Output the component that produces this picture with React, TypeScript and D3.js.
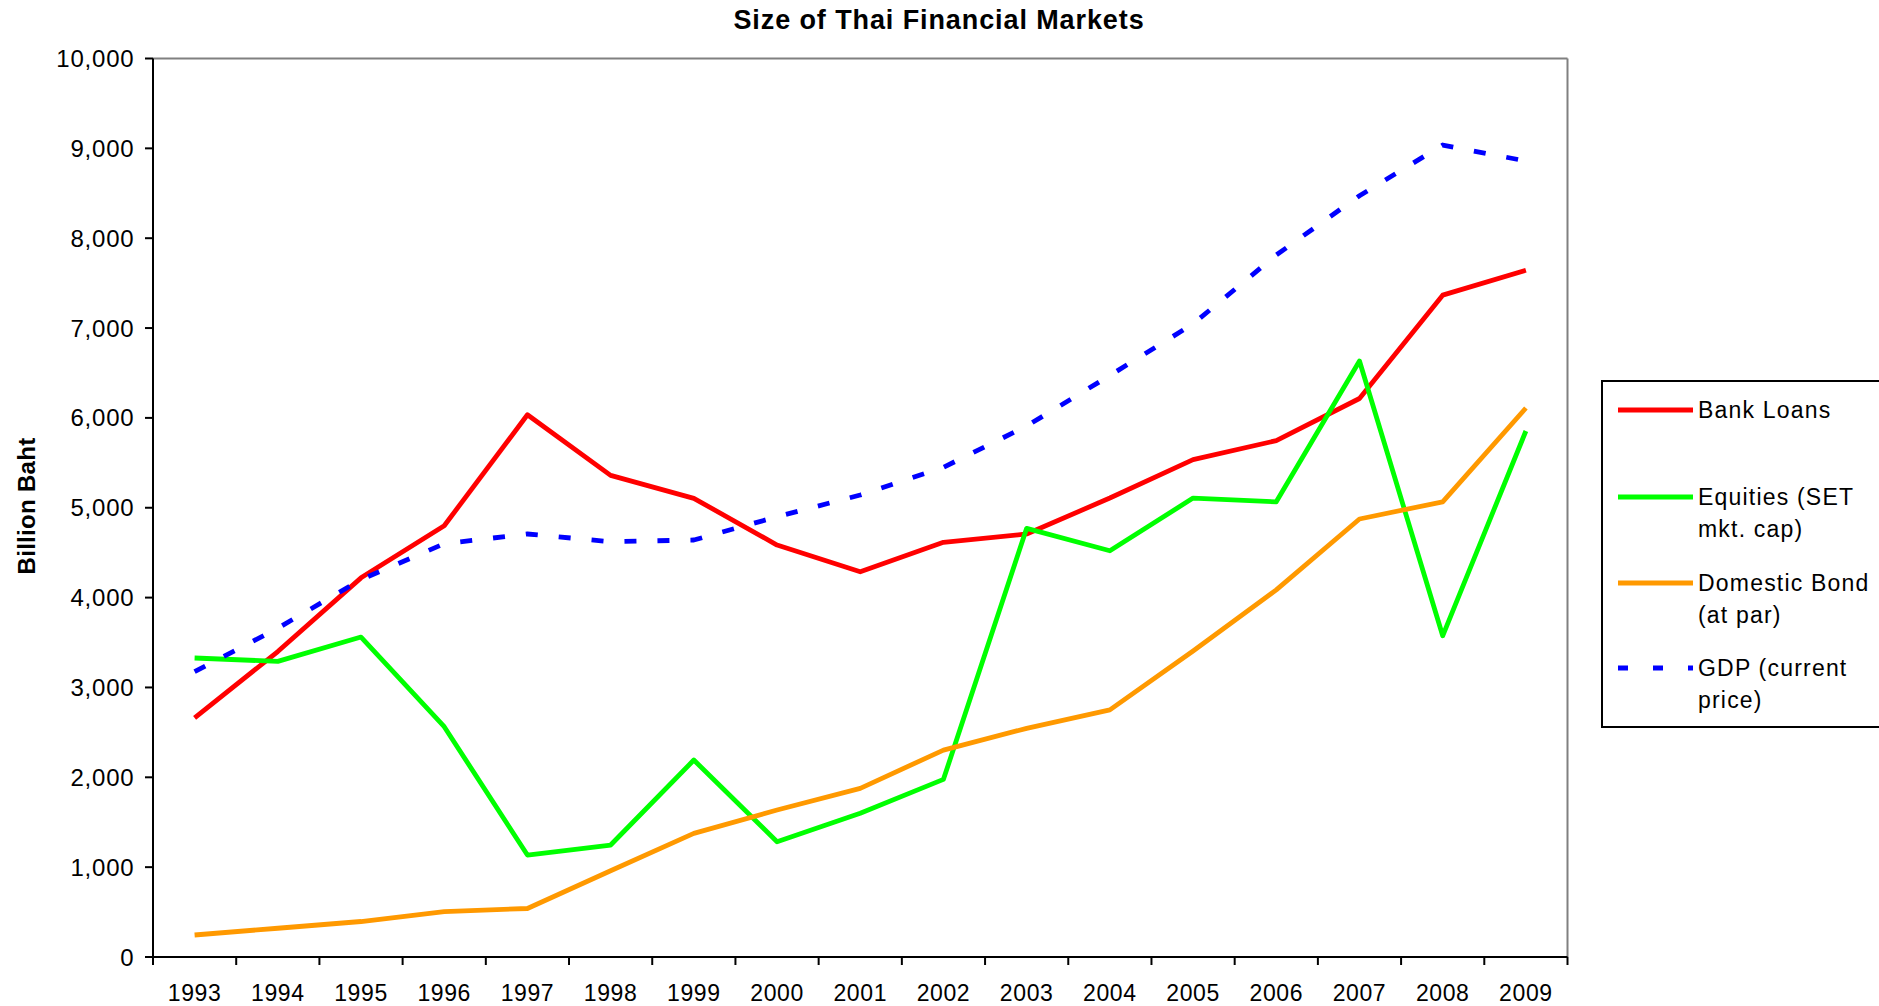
import React from "react";
import * as d3 from "d3";

const years = ["1993","1994","1995","1996","1997","1998","1999","2000","2001","2002","2003","2004","2005","2006","2007","2008","2009"];
const bankLoans = [2660, 3400, 4220, 4800, 6035, 5360, 5105, 4585, 4288, 4615, 4708, 5108, 5535, 5747, 6216, 7366, 7643];
const equities = [3328, 3290, 3561, 2563, 1135, 1246, 2192, 1283, 1599, 1977, 4771, 4521, 5108, 5066, 6633, 3575, 5854];
const domesticBond = [245, 320, 395, 505, 540, 960, 1376, 1636, 1877, 2303, 2545, 2750, 3405, 4086, 4875, 5066, 6110];
const gdp = [3176, 3660, 4200, 4600, 4708, 4622, 4641, 4900, 5142, 5450, 5910, 6472, 7046, 7813, 8473, 9037, 8859];
const yTicks = [0, 1000, 2000, 3000, 4000, 5000, 6000, 7000, 8000, 9000, 10000];

const series = [
  { name: ["Bank Loans"], values: bankLoans, color: "#FF0000", dash: null },
  { name: ["Equities (SET", "mkt. cap)"], values: equities, color: "#00FF00", dash: null },
  { name: ["Domestic Bond", "(at par)"], values: domesticBond, color: "#FF9900", dash: null },
  { name: ["GDP (current", "price)"], values: gdp, color: "#0000FF", dash: "12 21" },
];

const FONT = "'Liberation Sans', Arial, sans-serif";

export default function App() {
  const W = 1879, H = 1006;
  const left = 153, right = 1567.5, top = 58.5, bottom = 957;
  const x = d3.scaleBand<string>().domain(years).range([left, right]).padding(0);
  const y = d3.scaleLinear().domain([0, 10000]).range([bottom, top]);
  const fmt = d3.format(",");
  const line = (vals: number[]) =>
    d3.line<number>().x((_, i) => (x(years[i]) as number) + x.bandwidth() / 2).y((v) => y(v))(vals) || "";

  const legendRows = [410, 497, 583, 668];

  return (
    <svg width={W} height={H} style={{ position: "absolute", left: 0, top: 0, background: "#fff" }} fontFamily={FONT}>
      <rect x={0} y={0} width={W} height={H} fill="#fff" />
      {/* title */}
      <text x={939} y={29} textAnchor="middle" fontSize={27} fontWeight="bold" letterSpacing={0.9}>
        Size of Thai Financial Markets
      </text>
      {/* y axis title */}
      <text transform={`translate(35,506) rotate(-90)`} textAnchor="middle" fontSize={24} fontWeight="bold" letterSpacing={0.3}>
        Billion Baht
      </text>
      {/* plot border top/right */}
      <line x1={left} x2={right} y1={top} y2={top} stroke="#808080" strokeWidth={2} />
      <line x1={right} x2={right} y1={top} y2={bottom} stroke="#808080" strokeWidth={2} />
      {/* y axis */}
      <line x1={left} x2={left} y1={top} y2={bottom} stroke="#000" strokeWidth={2} />
      {yTicks.map((t) => (
        <g key={t}>
          <line x1={left - 8} x2={left} y1={y(t)} y2={y(t)} stroke="#000" strokeWidth={2} />
          <text x={134.5} y={y(t) + 8.5} textAnchor="end" fontSize={24} letterSpacing={0.8} fill="#000">
            {fmt(t)}
          </text>
        </g>
      ))}
      {/* x axis */}
      <line x1={left} x2={right} y1={bottom} y2={bottom} stroke="#000" strokeWidth={2} />
      {years.map((yr) => (
        <line key={"t" + yr} x1={x(yr) as number} x2={x(yr) as number} y1={bottom} y2={bottom + 8} stroke="#000" strokeWidth={2} />
      ))}
      <line x1={right} x2={right} y1={bottom} y2={bottom + 8} stroke="#000" strokeWidth={2} />
      {years.map((yr) => (
        <text key={"l" + yr} x={(x(yr) as number) + x.bandwidth() / 2} y={1001} textAnchor="middle" fontSize={23} letterSpacing={0.6} fill="#000">
          {yr}
        </text>
      ))}
      {/* series */}
      {series.map((s) => (
        <path key={s.name[0]} d={line(s.values)} fill="none" stroke={s.color} strokeWidth={4.8}
          strokeDasharray={s.dash || undefined} strokeLinejoin="round" />
      ))}
      {/* legend */}
      <rect x={1602} y={381} width={300} height={346} fill="#fff" stroke="#000" strokeWidth={2} />
      {series.map((s, i) => (
        <g key={"lg" + i}>
          <line x1={1618} x2={1693} y1={legendRows[i]} y2={legendRows[i]} stroke={s.color} strokeWidth={4.8}
            strokeDasharray={s.dash ? "10 25" : undefined} />
          {s.name.map((ln, j) => (
            <text key={j} x={1698} y={legendRows[i] + 8 + j * 31.5} fontSize={23} letterSpacing={1.2} fill="#000">
              {ln}
            </text>
          ))}
        </g>
      ))}
    </svg>
  );
}
